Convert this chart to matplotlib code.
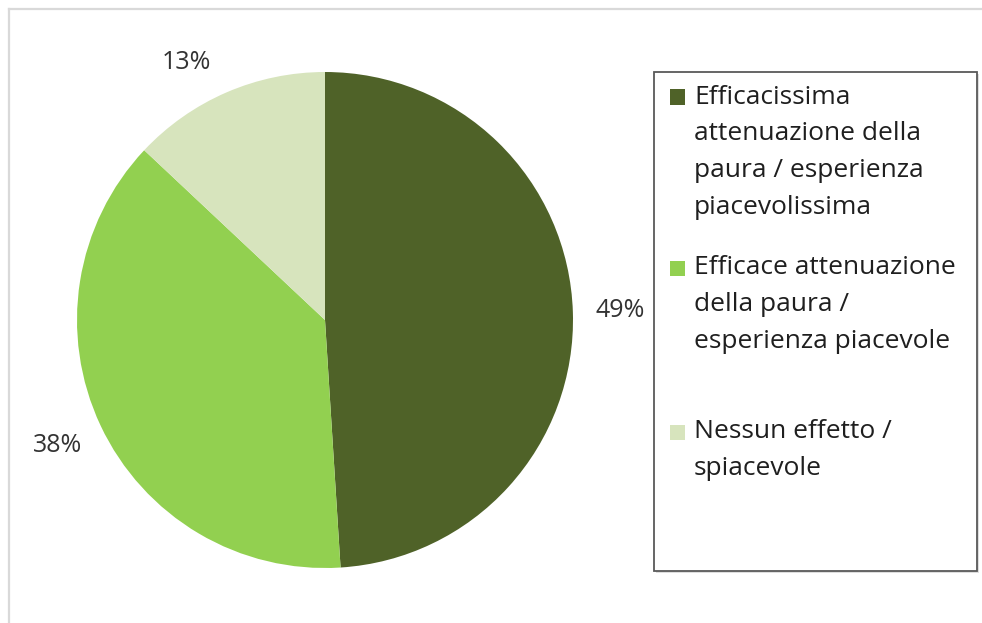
import matplotlib
matplotlib.use("Agg")
import matplotlib.pyplot as plt
from matplotlib.patches import Rectangle
from matplotlib.lines import Line2D

# Survey shares
categories = [
    ["Efficacissima", "attenuazione della", "paura / esperienza", "piacevolissima"],
    ["Efficace attenuazione", "della paura /", "esperienza piacevole"],
    ["Nessun effetto /", "spiacevole"],
]
shares = [49, 38, 13]
colors = ["#4f6228", "#92d050", "#d7e4bd"]

W, H = 982, 623
plt.rcParams["font.family"] = ["Open Sans", "DejaVu Sans"]

fig = plt.figure(figsize=(W / 100, H / 100), dpi=100)
fig.patch.set_facecolor("white")


def fx(px):
    return px / W


def fy(py):
    return 1 - py / H


# chart area outline (top and left edges only)
fig.add_artist(Line2D([fx(9), fx(W)], [fy(9), fy(9)], color="#d9d9d9", lw=1.6))
fig.add_artist(Line2D([fx(9), fx(9)], [fy(9), fy(622)], color="#d9d9d9", lw=1.6))

# pie: centre (325, 320), radius 248 px
cx, cy, r = 325, 320, 248
ax = fig.add_axes([fx(cx - r), fy(cy + r), 2 * r / W, 2 * r / H])
_, _, pct_texts = ax.pie(shares, colors=colors, startangle=90, counterclock=False,
                         autopct=lambda p: f"{p:.0f}%", pctdistance=1.19, radius=1,
                         wedgeprops=dict(linewidth=0),
                         textprops=dict(fontsize=18, color="#333333"))
# small label shift so text clears the pie edge
pct_texts[2].set_position((-0.56, 1.04))
ax.set_xlim(-1, 1)
ax.set_ylim(-1, 1)
ax.set_aspect("auto")
ax.axis("off")

# legend box
x0, y0, x1, y1 = 654, 72, 977, 571
fig.add_artist(Rectangle((fx(x0 + 2), fy(y1 + 2)), fx(x1 - x0), (y1 - y0) / H,
                         transform=fig.transFigure, facecolor="#c8c8c8",
                         edgecolor="none", alpha=0.6))
fig.add_artist(Rectangle((fx(x0), fy(y1)), fx(x1 - x0), (y1 - y0) / H,
                         transform=fig.transFigure, facecolor="white",
                         edgecolor="#595959", lw=1.3))

entry_top = [97, 268, 432]
pitch = 36.7
sq = 15
for lines, col, top in zip(categories, colors, entry_top):
    fig.add_artist(Rectangle((fx(670), fy(top + sq / 2)), sq / W, sq / H,
                             transform=fig.transFigure, facecolor=col,
                             edgecolor="none"))
    for i, line in enumerate(lines):
        fig.text(fx(694), fy(top + i * pitch), line, fontsize=19,
                 color="#1f1f1f", va="center", ha="left")

fig.savefig("out.png", dpi=100, facecolor="white")
